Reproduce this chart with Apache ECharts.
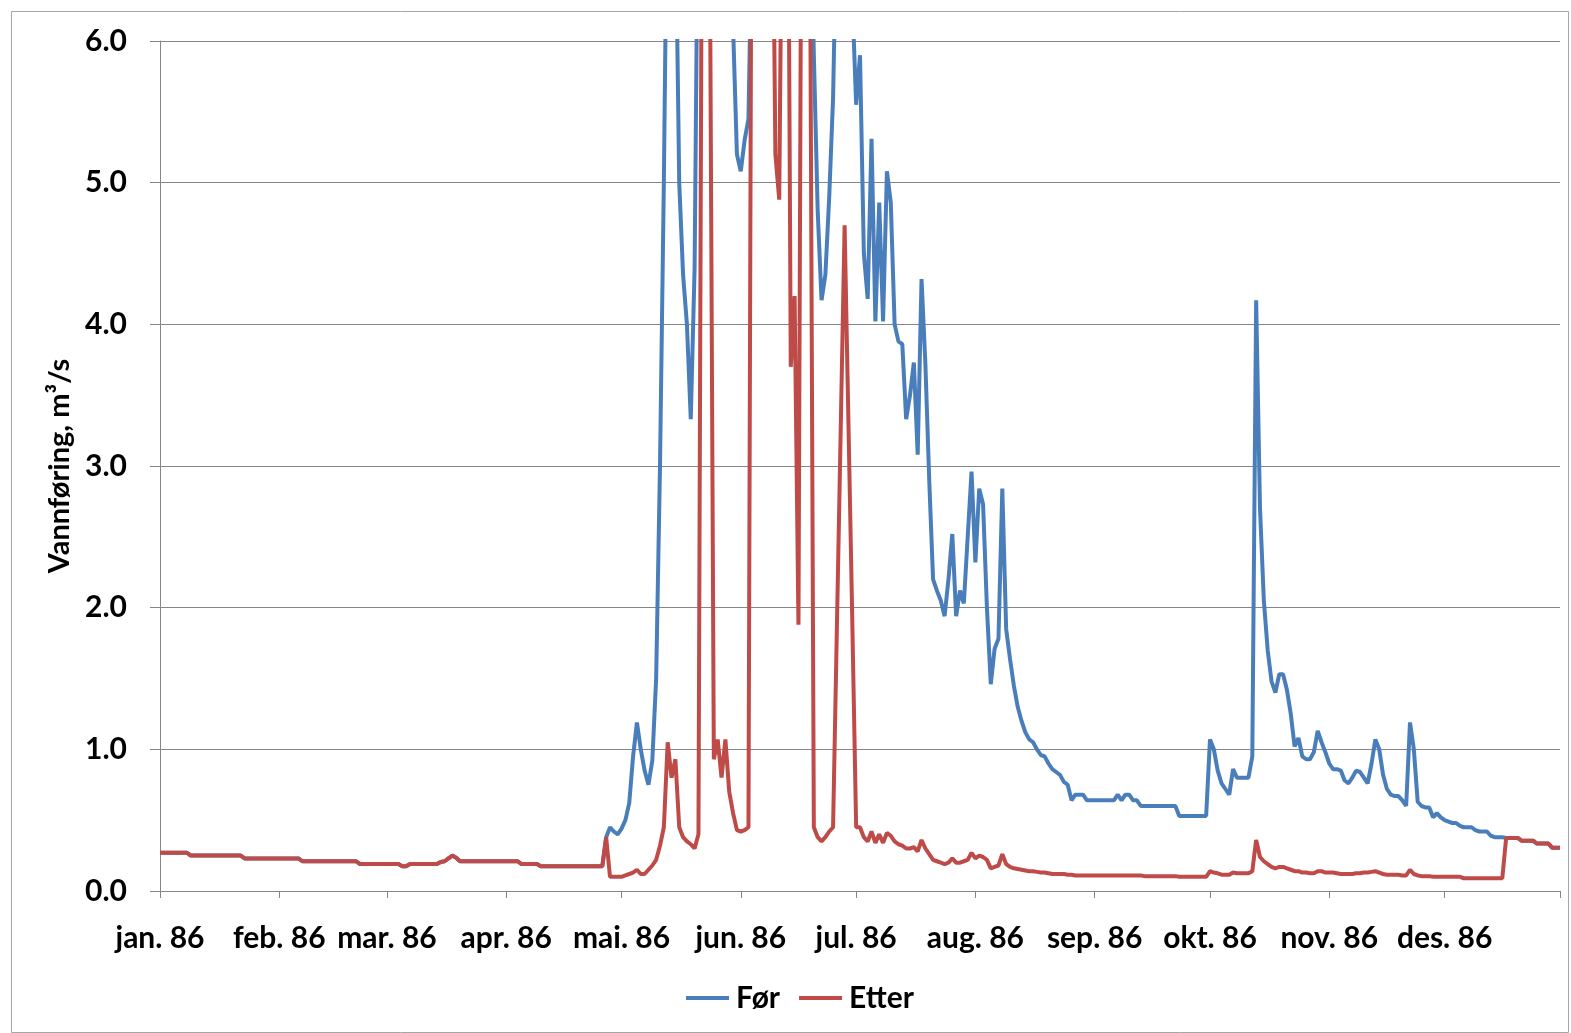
<!DOCTYPE html>
<html>
<head>
<meta charset="utf-8">
<script src="https://cdn.jsdelivr.net/npm/echarts@6/dist/echarts.min.js"></script>
<style>
html,body{margin:0;padding:0;background:#fff;}
#chart{width:1571px;height:1033px;}
</style>
</head>
<body>
<div id="chart"></div>
<script>
// ---- Data (daily values for 1986, m3/s) ----
const monthLabels = ['jan. 86','feb. 86','mar. 86','apr. 86','mai. 86','jun. 86','jul. 86','aug. 86','sep. 86','okt. 86','nov. 86','des. 86'];
const monthDays = [31,28,31,30,31,30,31,31,30,31,30,31];
const yTicks = [0,1,2,3,4,5,6];

const etterJan = [0.27,0.27,0.27,0.27,0.27,0.27,0.27,0.27,0.25,0.25,0.25,0.25,0.25,0.25,0.25,0.25,0.25,0.25,0.25,0.25,0.25,0.25,0.23,0.23,0.23,0.23,0.23,0.23,0.23,0.23,0.23];
const etterFeb = [0.23,0.23,0.23,0.23,0.23,0.23,0.21,0.21,0.21,0.21,0.21,0.21,0.21,0.21,0.21,0.21,0.21,0.21,0.21,0.21,0.21,0.19,0.19,0.19,0.19,0.19,0.19,0.19];
const etterMar = [0.19,0.19,0.19,0.19,0.175,0.175,0.19,0.19,0.19,0.19,0.19,0.19,0.19,0.19,0.205,0.21,0.23,0.25,0.235,0.21,0.21,0.21,0.21,0.21,0.21,0.21,0.21,0.21,0.21,0.21,0.21];
const etterApr = [0.21,0.21,0.21,0.21,0.19,0.19,0.19,0.19,0.19,0.175,0.175,0.175,0.175,0.175,0.175,0.175,0.175,0.175,0.175,0.175,0.175,0.175,0.175,0.175,0.175,0.175,0.38,0.10,0.10,0.10];
const etterMai = [0.10,0.11,0.12,0.13,0.15,0.12,0.12,0.15,0.18,0.22,0.32,0.45,1.05,0.80,0.93,0.45,0.38,0.35,0.33,0.30,0.40,8,9,6.5,0.93,1.07,0.80,1.07,0.70,0.55,0.43];
const etterJun = [0.42,0.43,0.45,9,11,12,11,10,8,5.2,4.88,8,9,3.7,4.2,1.88,9,10,6.8,0.45,0.38,0.35,0.38,0.42,0.45,1.87,3.28,4.7,3.3,1.9];
const etterJul = [0.45,0.45,0.38,0.35,0.42,0.34,0.40,0.34,0.41,0.39,0.35,0.33,0.32,0.30,0.30,0.31,0.28,0.36,0.30,0.26,0.22,0.21,0.20,0.19,0.20,0.23,0.20,0.20,0.21,0.22,0.27];
const etterAug = [0.23,0.25,0.24,0.22,0.16,0.17,0.18,0.26,0.19,0.17,0.16,0.155,0.15,0.145,0.14,0.14,0.135,0.13,0.13,0.125,0.12,0.12,0.12,0.12,0.115,0.115,0.11,0.11,0.11,0.11,0.11];
const etterSep = [0.11,0.11,0.11,0.11,0.11,0.11,0.11,0.11,0.11,0.11,0.11,0.11,0.11,0.105,0.105,0.105,0.105,0.105,0.105,0.105,0.105,0.105,0.10,0.10,0.10,0.10,0.10,0.10,0.10,0.10];
const etterOkt = [0.14,0.13,0.125,0.115,0.115,0.115,0.13,0.125,0.125,0.125,0.125,0.14,0.36,0.24,0.21,0.19,0.17,0.16,0.17,0.17,0.16,0.15,0.14,0.14,0.13,0.13,0.125,0.125,0.14,0.14,0.13];
const etterNov = [0.13,0.13,0.125,0.12,0.12,0.12,0.12,0.125,0.125,0.13,0.13,0.135,0.14,0.13,0.12,0.115,0.115,0.115,0.115,0.11,0.11,0.15,0.12,0.11,0.105,0.105,0.105,0.10,0.10,0.10];
const etterDes = [0.10,0.10,0.10,0.10,0.10,0.09,0.09,0.09,0.09,0.09,0.09,0.09,0.09,0.09,0.09,0.09,0.375,0.375,0.375,0.375,0.355,0.355,0.355,0.355,0.335,0.335,0.335,0.335,0.305,0.305,0.305];

const forJan = [0.27,0.27,0.27,0.27,0.27,0.27,0.27,0.27,0.25,0.25,0.25,0.25,0.25,0.25,0.25,0.25,0.25,0.25,0.25,0.25,0.25,0.25,0.23,0.23,0.23,0.23,0.23,0.23,0.23,0.23,0.23];
const forFeb = [0.23,0.23,0.23,0.23,0.23,0.23,0.21,0.21,0.21,0.21,0.21,0.21,0.21,0.21,0.21,0.21,0.21,0.21,0.21,0.21,0.21,0.19,0.19,0.19,0.19,0.19,0.19,0.19];
const forMar = [0.19,0.19,0.19,0.19,0.175,0.175,0.19,0.19,0.19,0.19,0.19,0.19,0.19,0.19,0.205,0.21,0.23,0.25,0.235,0.21,0.21,0.21,0.21,0.21,0.21,0.21,0.21,0.21,0.21,0.21,0.21];
const forApr = [0.21,0.21,0.21,0.21,0.19,0.19,0.19,0.19,0.19,0.175,0.175,0.175,0.175,0.175,0.175,0.175,0.175,0.175,0.175,0.175,0.175,0.175,0.175,0.175,0.175,0.175,0.38,0.45,0.42,0.40];
const forMai = [0.44,0.50,0.62,0.95,1.19,1.0,0.85,0.75,0.92,1.5,3.0,5.0,7.5,8.5,7.0,5.0,4.35,4.0,3.33,4.4,7.5,9,10,11,11,10,9,9,8,6.1,5.2];
const forJun = [5.08,5.3,5.45,7,9,11,12,12,11,10,10,10,9,9,8,8,8,7.5,7.2,5.9,4.8,4.17,4.35,4.9,5.6,7,8.5,9,8,6.3];
const forJul = [5.55,5.9,4.5,4.18,5.31,4.02,4.86,4.02,5.08,4.86,4.0,3.88,3.86,3.33,3.5,3.73,3.08,4.32,3.72,2.9,2.2,2.12,2.05,1.94,2.2,2.52,1.94,2.12,2.03,2.5,2.96];
const forAug = [2.32,2.84,2.73,2.0,1.46,1.71,1.78,2.84,1.85,1.64,1.45,1.3,1.2,1.12,1.07,1.05,1.0,0.96,0.95,0.9,0.86,0.84,0.82,0.77,0.75,0.64,0.68,0.68,0.68,0.64,0.64];
const forSep = [0.64,0.64,0.64,0.64,0.64,0.64,0.68,0.64,0.68,0.68,0.64,0.64,0.60,0.60,0.60,0.60,0.60,0.60,0.60,0.60,0.60,0.60,0.53,0.53,0.53,0.53,0.53,0.53,0.53,0.53];
const forOkt = [1.07,1.0,0.85,0.76,0.72,0.68,0.86,0.80,0.80,0.80,0.80,0.95,4.17,2.7,2.05,1.7,1.48,1.4,1.53,1.53,1.42,1.25,1.02,1.08,0.95,0.93,0.93,0.98,1.13,1.05,0.98];
const forNov = [0.9,0.86,0.86,0.85,0.78,0.76,0.8,0.85,0.84,0.8,0.76,0.9,1.07,1.0,0.82,0.72,0.68,0.67,0.67,0.64,0.6,1.19,1.0,0.63,0.6,0.59,0.59,0.52,0.55,0.52];
const forDes = [0.5,0.49,0.48,0.48,0.46,0.45,0.45,0.45,0.43,0.42,0.42,0.42,0.39,0.38,0.38,0.38,0.375,0.375,0.375,0.375,0.355,0.355,0.355,0.355,0.335,0.335,0.335,0.335,0.305,0.305,0.305];

// ---- Build categories and series ----
const categories = [];
monthDays.forEach((n, m) => {
  for (let d = 1; d <= n; d++) {
    categories.push('1986-' + String(m + 1).padStart(2, '0') + '-' + String(d).padStart(2, '0'));
  }
});
const forData = [].concat(forJan, forFeb, forMar, forApr, forMai, forJun, forJul, forAug, forSep, forOkt, forNov, forDes);
const etterData = [].concat(etterJan, etterFeb, etterMar, etterApr, etterMai, etterJun, etterJul, etterAug, etterSep, etterOkt, etterNov, etterDes);

const FONT = 'Lato';
const GRAY = '#868686';
const chart = echarts.init(document.getElementById('chart'), null, {renderer: 'canvas'});
chart.setOption({
  animation: false,
  backgroundColor: '#ffffff',
  graphic: [{
    type: 'rect', left: 9, top: 9, silent: true,
    shape: {width: 1557, height: 1021},
    style: {fill: 'none', stroke: '#a6a6a6', lineWidth: 1}
  }],
  grid: {left: 160, right: 11, top: 41, bottom: 142, containLabel: false},
  legend: {
    left: 686, top: 983,
    padding: 0,
    icon: 'rect',
    itemWidth: 43, itemHeight: 4, itemGap: 19,
    textStyle: {fontFamily: FONT, fontWeight: 'bold', fontSize: 30, color: '#000', padding: [0, 0, 0, 2]},
    data: ['Før', 'Etter']
  },
  xAxis: {
    type: 'category',
    data: categories,
    boundaryGap: false,
    axisLine: {lineStyle: {color: GRAY, width: 1}},
    axisTick: {
      show: true, length: 7, lineStyle: {color: GRAY},
      interval: (idx, val) => val.endsWith('-01') || idx === categories.length - 1
    },
    axisLabel: {
      interval: (idx, val) => val.endsWith('-01'),
      formatter: (val) => monthLabels[parseInt(val.slice(5, 7), 10) - 1],
      fontFamily: FONT, fontWeight: 'bold', fontSize: 30, color: '#000', margin: 32
    },
    splitLine: {show: false}
  },
  yAxis: {
    type: 'value',
    min: yTicks[0], max: yTicks[yTicks.length - 1], interval: 1,
    name: 'Vannføring, m³/s',
    nameLocation: 'middle',
    nameGap: 86,
    nameTextStyle: {fontFamily: FONT, fontWeight: 'bold', fontSize: 29, color: '#000'},
    axisLine: {show: true, lineStyle: {color: GRAY, width: 1}},
    axisTick: {show: true, length: 10, lineStyle: {color: GRAY}},
    axisLabel: {
      formatter: (v) => v.toFixed(1),
      fontFamily: FONT, fontWeight: 'bold', fontSize: 30, color: '#000', margin: 33
    },
    splitLine: {show: true, lineStyle: {color: GRAY, width: 1}}
  },
  series: [
    {
      name: 'Før', type: 'line', data: forData, showSymbol: false, symbol: 'none',
      lineStyle: {color: '#4a7ebb', width: 4}, itemStyle: {color: '#4a7ebb'}, clip: true
    },
    {
      name: 'Etter', type: 'line', data: etterData, showSymbol: false, symbol: 'none',
      lineStyle: {color: '#be4b48', width: 4}, itemStyle: {color: '#be4b48'}, clip: true
    }
  ]
});
</script>
</body>
</html>
